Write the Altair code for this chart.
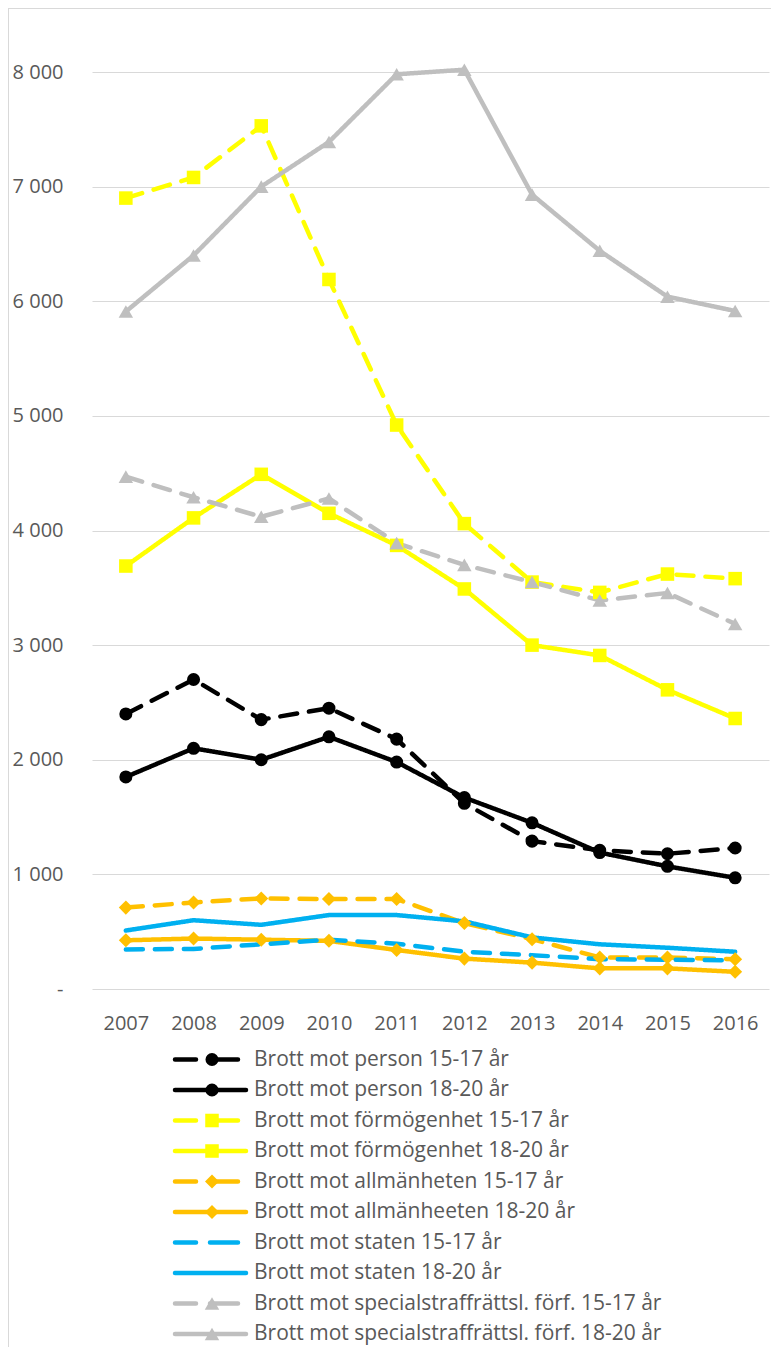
import altair as alt
import pandas as pd

years = [2007, 2008, 2009, 2010, 2011, 2012, 2013, 2014, 2015, 2016]

series_names = [
    "Brott mot person 15-17 år",
    "Brott mot person 18-20 år",
    "Brott mot förmögenhet 15-17 år",
    "Brott mot förmögenhet 18-20 år",
    "Brott mot allmänheten 15-17 år",
    "Brott mot allmänheeten 18-20 år",
    "Brott mot staten 15-17 år",
    "Brott mot staten 18-20 år",
    "Brott mot specialstraffrättsl. förf. 15-17 år",
    "Brott mot specialstraffrättsl. förf. 18-20 år",
]

person_15_17 = [2400, 2700, 2350, 2450, 2180, 1620, 1290, 1210, 1180, 1230]
person_18_20 = [1850, 2100, 2000, 2200, 1980, 1670, 1450, 1190, 1070, 970]
formogenhet_15_17 = [6900, 7080, 7530, 6190, 4920, 4060, 3550, 3460, 3620, 3580]
formogenhet_18_20 = [3690, 4110, 4490, 4150, 3870, 3490, 3000, 2910, 2610, 2360]
allmanheten_15_17 = [710, 755, 790, 785, 785, 575, 435, 275, 275, 260]
allmanheten_18_20 = [425, 440, 430, 420, 340, 265, 230, 180, 180, 150]
staten_15_17 = [345, 350, 390, 430, 395, 325, 295, 260, 255, 250]
staten_18_20 = [510, 600, 560, 645, 645, 590, 450, 390, 360, 325]
special_15_17 = [4470, 4290, 4120, 4280, 3890, 3700, 3550, 3390, 3455, 3185]
special_18_20 = [5910, 6400, 7000, 7390, 7980, 8020, 6930, 6440, 6040, 5915]

series_values = [
    person_15_17, person_18_20,
    formogenhet_15_17, formogenhet_18_20,
    allmanheten_15_17, allmanheten_18_20,
    staten_15_17, staten_18_20,
    special_15_17, special_18_20,
]

series_colors = ["#000000", "#000000", "#FFFF00", "#FFFF00", "#FFC000",
                 "#FFC000", "#00B0F0", "#00B0F0", "#BFBFBF", "#BFBFBF"]
series_dash = ["dashed", "solid"] * 5
series_shapes = ["circle", "circle", "square", "square", "diamond",
                 "diamond", "", "", "triangle-up", "triangle-up"]

y_ticks = [0, 1000, 2000, 3000, 4000, 5000, 6000, 7000, 8000]

rows = []
for i, name in enumerate(series_names):
    for yr, v in zip(years, series_values[i]):
        rows.append({"series": name, "year": yr, "value": v,
                     "dash": series_dash[i], "shape": series_shapes[i], "idx": i})
df = pd.DataFrame(rows)
df_pts = df[df["shape"] != ""]

legend_df = pd.DataFrame({"series": series_names, "idx": list(range(10)),
                          "dash": series_dash, "shape": series_shapes})

color_enc = alt.Color("series:N", scale=alt.Scale(domain=series_names, range=series_colors), legend=None)
shape_dom = ["circle", "square", "diamond", "triangle-up"]
shape_enc = alt.Shape("shape:N", scale=alt.Scale(domain=shape_dom, range=shape_dom), legend=None)
size_enc = alt.Size("shape:O", scale=alt.Scale(domain=shape_dom, range=[170, 210, 230, 200]), legend=None)

x_enc = alt.X("year:Q", scale=alt.Scale(domain=[2006.5, 2016.5], nice=False, zero=False),
              axis=alt.Axis(values=years, format="d", grid=False, domain=False, ticks=False,
                            labelPadding=24, title=None))
y_enc = alt.Y("value:Q", scale=alt.Scale(domain=[0, 8000], nice=False),
              axis=alt.Axis(values=y_ticks, grid=True, gridColor="#D9D9D9", gridWidth=1.2,
                            domain=False, ticks=False, labelPadding=29, title=None,
                            labelExpr="datum.value == 0 ? '-' : replace(format(datum.value, ','), ',', ' ')"))

lines = alt.Chart(df).mark_line(strokeWidth=4.5, strokeCap="round", strokeJoin="round").encode(
    x=x_enc, y=y_enc, color=color_enc,
    strokeDash=alt.StrokeDash("dash:N", scale=alt.Scale(domain=["dashed", "solid"], range=[[17, 12], [1, 0]]), legend=None),
)
points = alt.Chart(df_pts).mark_point(filled=True, opacity=1).encode(
    x=x_enc, y=y_enc, color=color_enc, shape=shape_enc, size=size_enc,
)
main = alt.layer(lines, points)

ly = alt.Y("idx:Q", scale=alt.Scale(domain=[0, 9], range=[987.5, 1262], nice=False, zero=False), axis=None)

leg_solid = alt.Chart(legend_df[legend_df["dash"] == "solid"]).mark_rule(strokeWidth=4.5, strokeCap="round").encode(
    x=alt.value(83), x2=alt.value(154), y=ly, color=color_enc)
leg_dashed = alt.Chart(legend_df[legend_df["dash"] == "dashed"]).mark_rule(
    strokeWidth=4.5, strokeCap="round", strokeDash=[21, 14, 28]).encode(
    x=alt.value(83), x2=alt.value(146), y=ly, color=color_enc)
leg_pts = alt.Chart(legend_df[legend_df["shape"] != ""]).mark_point(filled=True, opacity=1).encode(
    x=alt.value(120), y=ly, color=color_enc, shape=shape_enc, size=size_enc)
leg_text = alt.Chart(legend_df).mark_text(font="Open Sans", fontSize=21, color="#595959",
                                          align="left", baseline="middle").encode(
    x=alt.value(162), y=ly, text="series:N")

frame_df = pd.DataFrame({"k": [0]})
frame_top = alt.Chart(frame_df).mark_rule(color="#D9D9D9", strokeWidth=1).encode(
    x=alt.value(-84), x2=alt.value(700), y=alt.value(-63.5))
frame_left = alt.Chart(frame_df).mark_rule(color="#D9D9D9", strokeWidth=1).encode(
    x=alt.value(-83.5), y=alt.value(-64), y2=alt.value(1300))

legend = alt.layer(leg_solid, leg_dashed, leg_pts, leg_text, frame_top, frame_left)

chart = alt.layer(main, legend).resolve_scale(y="independent").properties(
    width=677, height=917,
    padding={"left": 84, "top": 64, "right": 2, "bottom": 358},
    autosize=alt.AutoSizeParams(type="none"),
).configure_view(stroke=None).configure_axis(
    labelFont="Open Sans", labelFontSize=20, labelColor="#595959"
)

chart.save("out.html", embed_options={"renderer": "svg", "actions": False})
